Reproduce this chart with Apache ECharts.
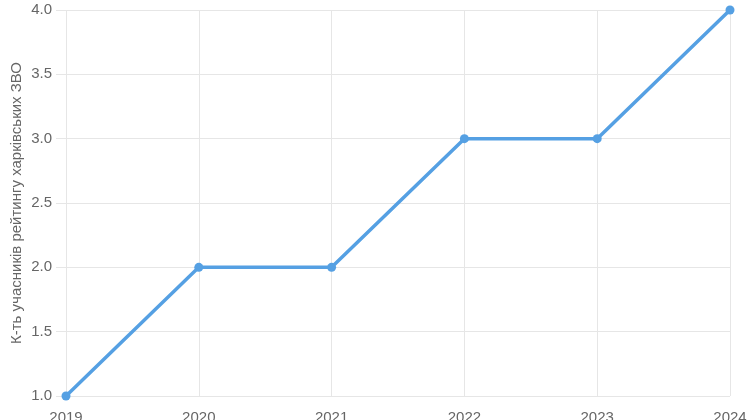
<!DOCTYPE html>
<html><head><meta charset="utf-8">
<script src="https://cdn.jsdelivr.net/npm/echarts@6/dist/echarts.min.js"></script>
<style>html,body{margin:0;padding:0;background:#fff}#c{width:750px;height:420px}</style>
</head><body><div id="c"></div>
<script>
const years = ['2019','2020','2021','2022','2023','2024'];
const counts = [1, 2, 2, 3, 3, 4];
const yTicks = [1.0, 1.5, 2.0, 2.5, 3.0, 3.5, 4.0];
const yName = 'К-ть учасників рейтингу харківських ЗВО';
const chart = echarts.init(document.getElementById('c'));
chart.setOption({
  animation: false,
  grid: {left: 66, right: 20, top: 10, bottom: 24, containLabel: false, outerBoundsMode: 'none'},
  xAxis: {
    type: 'category', data: years, boundaryGap: false,
    axisLine: {show: false}, axisTick: {show: false},
    axisLabel: {color: '#666', fontSize: 15, fontFamily: 'Arial, Liberation Sans', margin: 14},
    splitLine: {show: true, lineStyle: {color: '#e6e6e6'}}
  },
  yAxis: {
    type: 'value', min: 1.0, max: 4.0, interval: 0.5,
    name: yName, nameLocation: 'middle', nameGap: 42, nameMoveOverlap: false,
    nameTextStyle: {color: '#666', fontSize: 15, fontFamily: 'Arial, Liberation Sans'},
    axisLine: {show: false},
    axisTick: {show: true, length: 10, lineStyle: {color: '#e6e6e6'}},
    axisLabel: {color: '#666', fontSize: 15, fontFamily: 'Arial, Liberation Sans', margin: 14,
      formatter: v => v.toFixed(1)},
    splitLine: {show: true, lineStyle: {color: '#e6e6e6'}}
  },
  series: [{
    type: 'line', data: counts, symbol: 'circle', symbolSize: 9,
    lineStyle: {width: 3.5, color: '#55a0e3'}, itemStyle: {color: '#55a0e3'}
  }]
});
</script></body></html>
